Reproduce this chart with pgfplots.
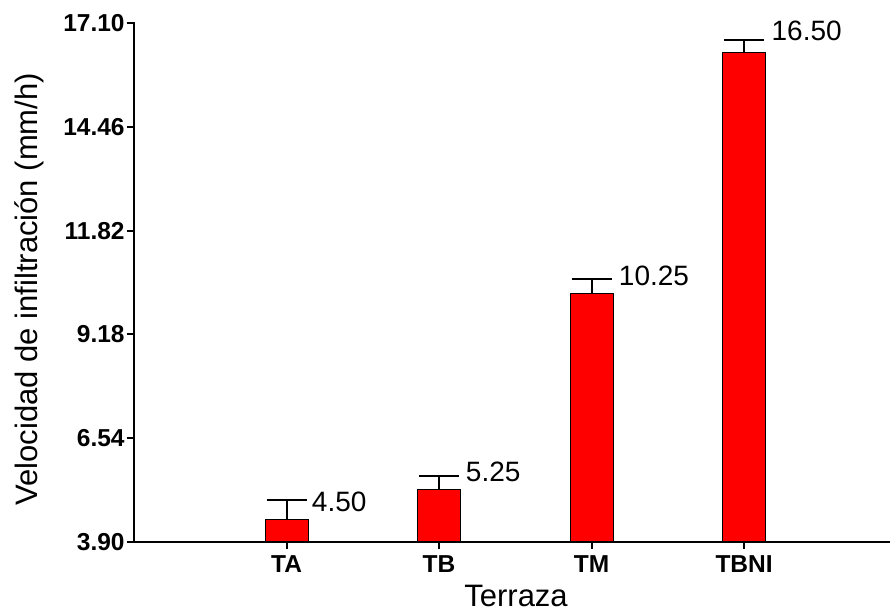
\documentclass[border=0pt]{standalone}
\usepackage{pgfplots}
\pgfplotsset{compat=1.18}
\usepackage{fontspec}
\setmainfont{Liberation Sans}
\begin{document}
\begin{tikzpicture}
\begin{axis}[
  scale only axis, width=377.5pt, height=259.5pt,
  xmin=0, xmax=4.95, ymin=3.9, ymax=17.1,
  axis line style={draw=none},
  xtick pos=bottom, ytick pos=left,
  xtick={1,2,3,4}, xticklabels={TA,TB,TM,TBNI},
  ytick={3.90,6.54,9.18,11.82,14.46,17.10},
  tick align=outside, major tick length=3.5pt,
  tick style={black, line width=1pt},
  ticklabel style={font=\fontsize{12.25}{14}\selectfont\bfseries},
  yticklabel style={inner sep=1pt, /pgf/number format/.cd, fixed, fixed zerofill, precision=2, assume math mode=true},
  xlabel={Terraza}, ylabel={Velocidad de infiltración (mm/h)},
  label style={font=\fontsize{15.5}{18}\selectfont, inner sep=0pt},
  xlabel style={at={(axis description cs:0.506,-0.082)}, anchor=north},
  ylabel style={at={(axis description cs:-0.1188,0.487)}, anchor=south},
]
\addplot[ybar, bar width=21.5pt, bar shift=0pt, fill=red, draw=black, line width=0.5pt,
  error bars/.cd, y dir=plus, y explicit,
  error bar style={line width=1pt, black},
  error mark options={rotate=90, line width=1pt, black, mark size=10pt}]
  coordinates {(1,4.48) +- (0,0.49) (2,5.23) +- (0,0.35) (3,10.23) +- (0,0.35) (4,16.36) +- (0,0.32)};
\addplot[only marks, mark=*, mark size=0pt, mark options={draw=none, fill=none},
  nodes near coords, point meta=explicit symbolic,
  every node near coord/.append style={anchor=west, inner sep=0pt, text=black, font=\fontsize{14}{16}\selectfont}]
  coordinates {(1.164,4.92) [4.50] (2.174,5.68) [5.25] (3.177,10.68) [10.25] (4.178,16.90) [16.50]};
\coordinate (ya) at (axis cs:0,3.90);
\coordinate (yb) at (axis cs:0,6.54);
\coordinate (yc) at (axis cs:0,9.18);
\coordinate (yd) at (axis cs:0,11.82);
\coordinate (ye) at (axis cs:0,14.46);
\coordinate (yf) at (axis cs:0,17.10);
\coordinate (xa) at (axis cs:1,3.90);
\coordinate (xb) at (axis cs:2,3.90);
\coordinate (xc) at (axis cs:3,3.90);
\coordinate (xd) at (axis cs:4,3.90);
\end{axis}
\draw[black, line width=1pt, line cap=rect] (current axis.north west) -- (current axis.south west) -- (current axis.south east);
\foreach \c in {ya,yb,yc,yd,ye,yf} \draw[black, line width=1pt] (\c) -- ++(-3.5pt,0);
\foreach \c in {xa,xb,xc,xd} \draw[black, line width=1pt] (\c) -- ++(0,-3.5pt);
\pgfresetboundingbox
\path[use as bounding box] ([xshift=-67pt,yshift=-35.5pt]current axis.south west) rectangle ([xshift=0.5pt,yshift=11.5pt]current axis.north east);
\end{tikzpicture}
\end{document}
